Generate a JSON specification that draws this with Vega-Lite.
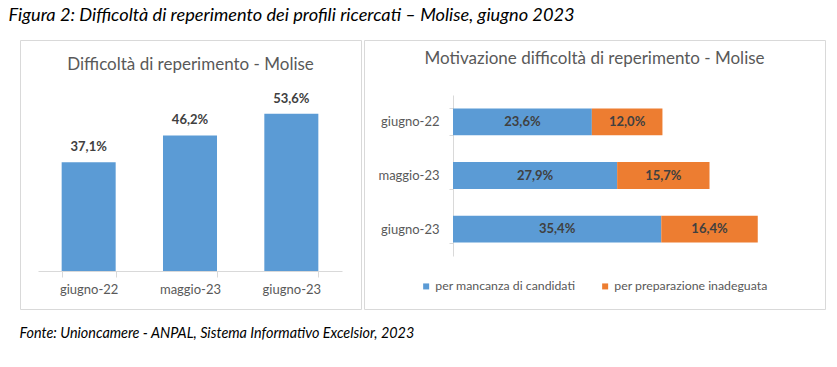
{
  "$schema": "https://vega.github.io/schema/vega-lite/v6.json",
  "padding": {"left": 8, "top": 6, "right": 5, "bottom": 5},
  "background": "white",
  "config": {
    "font": "Lato",
    "view": {"stroke": "#D9D9D9", "strokeWidth": 1},
    "locale": {"number": {"decimal": ",", "thousands": ".", "grouping": [3], "currency": ["€", ""]}}
  },
  "title": {
    "text": "Figura 2: Difficoltà di reperimento dei profili ricercati – Molise, giugno 2023",
    "anchor": "start",
    "fontStyle": "italic",
    "fontWeight": "normal",
    "fontSize": 18.2,
    "color": "#000000",
    "dx": -11,
    "offset": 8
  },
  "vconcat": [
    {
      "title": {
        "text": "Fonte: Unioncamere - ANPAL, Sistema Informativo Excelsior, 2023",
        "orient": "bottom",
        "anchor": "start",
        "fontStyle": "italic",
        "fontWeight": "normal",
        "fontSize": 14.4,
        "color": "#000000",
        "offset": 17
      },
      "spacing": 1,
      "resolve": {"scale": {"color": "independent"}, "legend": {"color": "independent"}},
      "hconcat": [
        {
          "width": 341,
          "height": 269,
          "title": {
            "text": "Difficoltà di reperimento - Molise",
            "offset": -34,
            "fontSize": 17,
            "fontWeight": "normal",
            "color": "#595959",
            "anchor": "middle",
            "frame": "group"
          },
          "data": {
            "values": [
              {"periodo": "giugno-22", "valore": 0.371},
              {"periodo": "maggio-23", "valore": 0.462},
              {"periodo": "giugno-23", "valore": 0.536}
            ]
          },
          "encoding": {
            "x": {
              "field": "periodo",
              "type": "nominal",
              "sort": null,
              "scale": {"range": [18, 322], "paddingInner": 0.467, "paddingOuter": 0.2335},
              "axis": {
                "title": null,
                "labelAngle": 0,
                "offset": -38,
                "tickBand": "extent",
                "tickSize": 6,
                "domainColor": "#D9D9D9",
                "tickColor": "#D9D9D9",
                "labelColor": "#595959",
                "labelFontSize": 13,
                "labelPadding": 6
              }
            },
            "y": {
              "field": "valore",
              "type": "quantitative",
              "scale": {"domain": [0, 0.6], "range": [231, 55]},
              "axis": null
            }
          },
          "layer": [
            {"mark": {"type": "bar", "color": "#5B9BD5"}},
            {
              "mark": {"type": "text", "baseline": "alphabetic", "dy": -11, "fontWeight": "bold", "fontSize": 13, "color": "#404040"},
              "encoding": {"text": {"field": "valore", "type": "quantitative", "format": ".1%"}}
            }
          ]
        },
        {
          "width": 461,
          "height": 269,
          "title": {
            "text": "Motivazione difficoltà di reperimento - Molise",
            "offset": -34,
            "fontSize": 17,
            "fontWeight": "normal",
            "color": "#595959",
            "anchor": "middle",
            "frame": "group"
          },
          "data": {
            "values": [
              {"periodo": "giugno-22", "motivo": "per mancanza di candidati", "valore": 0.236},
              {"periodo": "giugno-22", "motivo": "per preparazione inadeguata", "valore": 0.12},
              {"periodo": "maggio-23", "motivo": "per mancanza di candidati", "valore": 0.279},
              {"periodo": "maggio-23", "motivo": "per preparazione inadeguata", "valore": 0.157},
              {"periodo": "giugno-23", "motivo": "per mancanza di candidati", "valore": 0.354},
              {"periodo": "giugno-23", "motivo": "per preparazione inadeguata", "valore": 0.164}
            ]
          },
          "encoding": {
            "y": {
              "field": "periodo",
              "type": "nominal",
              "sort": null,
              "scale": {"range": [55, 216], "paddingInner": 0.5, "paddingOuter": 0.25},
              "axis": {
                "title": null,
                "offset": -89,
                "tickBand": "extent",
                "tickSize": 4,
                "domainColor": "#D9D9D9",
                "tickColor": "#D9D9D9",
                "labelColor": "#595959",
                "labelFontSize": 13,
                "labelPadding": 10
              }
            },
            "x": {
              "field": "valore",
              "type": "quantitative",
              "stack": "zero",
              "scale": {"domain": [0, 0.6], "range": [89, 442]},
              "axis": null
            },
            "order": {"field": "motivo", "type": "ordinal", "sort": "ascending"}
          },
          "layer": [
            {
              "mark": {"type": "bar"},
              "encoding": {
                "color": {
                  "field": "motivo",
                  "type": "nominal",
                  "scale": {
                    "domain": ["per mancanza di candidati", "per preparazione inadeguata"],
                    "range": ["#5B9BD5", "#ED7D31"]
                  },
                  "legend": {
                    "title": null,
                    "orient": "none",
                    "legendX": 56,
                    "legendY": 240,
                    "direction": "horizontal",
                    "symbolType": "square",
                    "symbolSize": 36,
                    "symbolStrokeWidth": 0,
                    "labelFontSize": 12.3,
                    "labelColor": "#595959",
                    "columnPadding": 23,
                    "labelOffset": 3,
                    "padding": 0
                  }
                }
              }
            },
            {
              "mark": {"type": "text", "fontWeight": "bold", "fontSize": 13, "color": "#404040", "baseline": "middle"},
              "encoding": {
                "x": {"field": "valore", "type": "quantitative", "stack": "zero", "bandPosition": 0.5},
                "detail": {"field": "motivo", "type": "nominal"},
                "text": {"field": "valore", "type": "quantitative", "format": ".1%"}
              }
            }
          ]
        }
      ]
    }
  ]
}
